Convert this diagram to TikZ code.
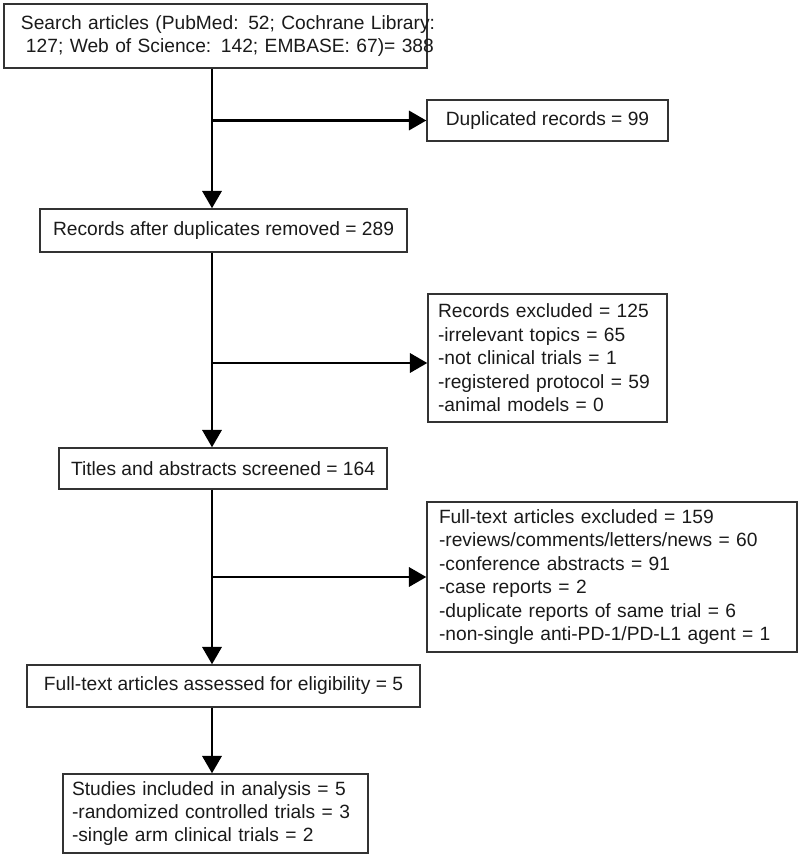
\documentclass[tikz,border=0pt]{standalone}
\usepackage{fontspec}
\setmainfont{Liberation Sans}
\usetikzlibrary{arrows.meta,calc}
\definecolor{boxline}{HTML}{333333}
\definecolor{txt}{HTML}{1A1A1A}
\tikzset{
  box/.style={draw=boxline, line width=1.1pt, rectangle, inner ysep=0pt, text=txt,
    font=\fontsize{14.4pt}{17.6pt}\selectfont},
  cbox/.style={box, align=center, inner xsep=0pt},
  lbox/.style={box, align=left},
  arr/.style={line width=1.8pt, draw=black, -{Triangle[length=13pt,width=14.5pt]}},
  seg/.style={line width=1.8pt, draw=black}
}
\begin{document}
\begin{tikzpicture}[x=0.75pt,y=-0.75pt]
\useasboundingbox (0,0) rectangle (800,855);
% boxes
\node[lbox, inner xsep=0pt, text width=317.25pt, minimum width=317.25pt, minimum height=48pt] (b1) at (215.5,36)
  {\mbox{\hspace*{12.75pt}Search articles (PubMed: 52; Cochrane Library:}\\
   \mbox{\hspace*{16.5pt}127; Web of Science: 142; EMBASE: 67)= 388}};
\node[cbox, minimum width=180.75pt, minimum height=30.75pt] (b2) at (547.5,120.5) {Duplicated records = 99};
\node[cbox, minimum width=275.25pt, minimum height=32.25pt] (b3) at (223.5,230.5) {Records after duplicates removed = 289};
\node[lbox, inner xsep=7.5pt, text width=164.25pt, minimum height=96pt] (b4) at (547.5,358)
  {Records excluded = 125\\
   -irrelevant topics = 65\\
   -not clinical trials = 1\\
   -registered protocol = 59\\
   -animal models = 0};
\node[cbox, minimum width=246pt, minimum height=30.75pt] (b5) at (223,468.5) {Titles and abstracts screened = 164};
\node[lbox, inner xsep=9pt, text width=259.5pt, minimum height=112.5pt] (b6) at (612,577)
  {Full-text articles excluded = 159\\
   -reviews/comments/letters/news = 60\\
   -conference abstracts = 91\\
   -case reports = 2\\
   -duplicate reports of same trial = 6\\
   -non-single anti-PD-1/PD-L1 agent = 1};
\node[cbox, minimum width=294.75pt, minimum height=31.5pt] (b7) at (223.5,686) {Full-text articles assessed for eligibility = 5};
\node[lbox, inner xsep=6.75pt, text width=215.25pt, minimum height=59.25pt] (b8) at (215.5,813.5)
  {Studies included in analysis = 5\\
   -randomized controlled trials = 3\\
   -single arm clinical trials = 2};
% connectors
\coordinate (trunk) at (212,0);
\draw[arr] (b1.south -| trunk) -- (b3.north -| trunk);
\draw[arr] (b2.west -| trunk) -- (b2.west);
\draw[arr] (b3.south -| trunk) -- (b5.north -| trunk);
\draw[arr] ([yshift=-3.75pt]b4.west -| trunk) -- ([yshift=-3.75pt]b4.west);
\draw[arr] (b5.south -| trunk) -- (b7.north -| trunk);
\draw[arr] (b6.west -| trunk) -- (b6.west);
\draw[arr] (b7.south -| trunk) -- (b8.north -| trunk);
\end{tikzpicture}
\end{document}
